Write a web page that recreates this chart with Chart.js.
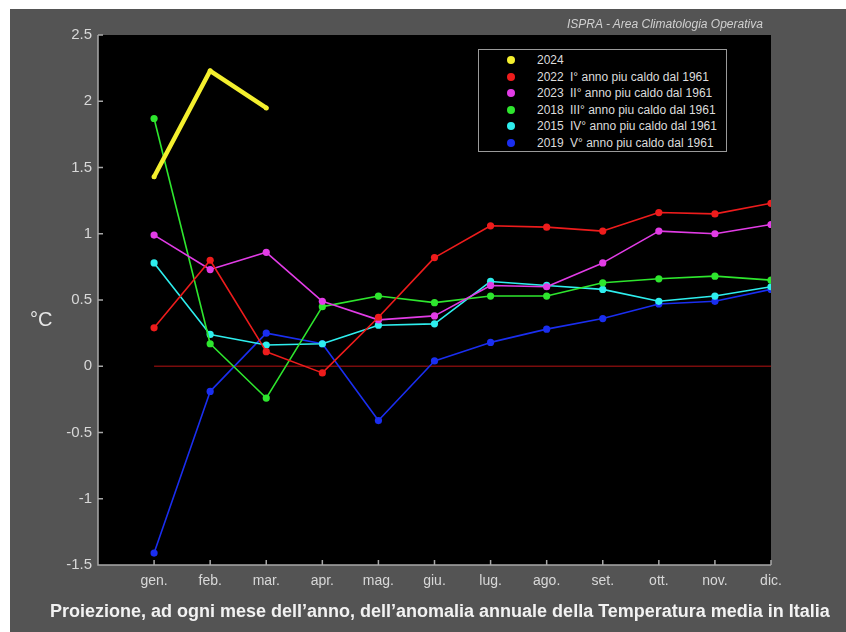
<!DOCTYPE html>
<html>
<head>
<meta charset="utf-8">
<script src="https://cdn.jsdelivr.net/npm/chart.js@4.4.1/dist/chart.umd.min.js"></script>
<style>
  html, body { margin:0; padding:0; background:#ffffff; }
  #wrap { position:relative; width:846px; height:632px; overflow:hidden; }
  #bg { position:absolute; left:10px; top:9px; right:0; bottom:0; background:#545454; }
  #c { position:absolute; left:0; top:0; }
  .txt { position:absolute; font-family:"Liberation Sans", Arial, sans-serif; white-space:nowrap; }
  #src { left:567px; top:17px; font-size:12px; font-style:italic; color:#d0d0d0; }
  #unit { left:30px; top:308px; font-size:20px; color:#e6e6e6; }
  #title { left:50px; top:601px; font-size:18px; font-weight:bold; color:#f2f2f2; }
  #legend { position:absolute; left:478px; top:49px; width:249px; height:103px; background:#000; border:1px solid #9a9a9a; box-sizing:border-box; }
  .row { position:absolute; left:0; height:14px; font-family:"Liberation Sans", Arial, sans-serif; font-size:12px; color:#dcdcdc; }
  .dot { position:absolute; left:28px; top:3px; width:8px; height:8px; border-radius:50%; }
  .yr { position:absolute; left:58px; top:0; }
  .lb { position:absolute; left:91px; top:0; white-space:nowrap; }
</style>
</head>
<body>
<div id="wrap">
  <div id="bg"></div>
  <canvas id="c" width="846" height="632"></canvas>
  <div class="txt" id="src">ISPRA - Area Climatologia Operativa</div>
  <div class="txt" id="unit">°C</div>
  <div class="txt" id="title">Proiezione, ad ogni mese dell’anno, dell’anomalia annuale della Temperatura media in Italia</div>
  <div id="legend"></div>
</div>
<script>
const months = ['gen.','feb.','mar.','apr.','mag.','giu.','lug.','ago.','set.','ott.','nov.','dic.'];
const yTicks = [-1.5, -1, -0.5, 0, 0.5, 1, 1.5, 2, 2.5];

const years = ['2024', '2022', '2023', '2018', '2015', '2019'];
const legendLabels = ['', 'I° anno piu caldo dal 1961', 'II° anno piu caldo dal 1961', 'III° anno piu caldo dal 1961', 'IV° anno piu caldo dal 1961', 'V° anno piu caldo dal 1961'];
const colors = ['#f4ef2e', '#ee1c1c', '#e23ce6', '#2ee62e', '#2eeeee', '#1a2ef0'];

const v2024 = [1.43, 2.23, 1.95];
const v2022 = [0.29, 0.80, 0.11, -0.05, 0.37, 0.82, 1.06, 1.05, 1.02, 1.16, 1.15, 1.23];
const v2023 = [0.99, 0.73, 0.86, 0.49, 0.35, 0.38, 0.61, 0.60, 0.78, 1.02, 1.00, 1.07];
const v2018 = [1.87, 0.17, -0.24, 0.45, 0.53, 0.48, 0.53, 0.53, 0.63, 0.66, 0.68, 0.65];
const v2015 = [0.78, 0.24, 0.16, 0.17, 0.31, 0.32, 0.64, 0.61, 0.58, 0.49, 0.53, 0.60];
const v2019 = [-1.41, -0.19, 0.25, 0.17, -0.41, 0.04, 0.18, 0.28, 0.36, 0.47, 0.49, 0.58];
const zeroLine = [0, 0];

const series = [v2024, v2022, v2023, v2018, v2015, v2019];
const toXY = arr => arr.map((v, i) => ({x: i, y: v}));

// HTML legend
const lg = document.getElementById('legend');
years.forEach((y, i) => {
  const r = document.createElement('div');
  r.className = 'row';
  r.style.top = (3 + i * 16.6) + 'px';
  r.style.width = '247px';
  r.innerHTML = '<span class="dot" style="background:' + colors[i] + '"></span><span class="yr">' + y + '</span><span class="lb">' + legendLabels[i] + '</span>';
  lg.appendChild(r);
});

const datasets = series.map((arr, i) => ({
  label: years[i],
  data: toXY(arr),
  borderColor: colors[i],
  backgroundColor: colors[i],
  borderWidth: i === 0 ? 4.5 : 1.6,
  borderCapStyle: 'round',
  borderJoinStyle: 'round',
  pointRadius: i === 0 ? 2.5 : 3.6,
  pointBorderWidth: 0,
  tension: 0
}));
datasets.push({
  label: 'zero',
  data: [{x: 0, y: zeroLine[0]}, {x: months.length - 1, y: zeroLine[1]}],
  borderColor: '#7a0c0c',
  borderWidth: 1.5,
  pointRadius: 0
});

const axisPlugin = {
  id: 'axisPlugin',
  beforeDraw(chart) {
    const a = chart.chartArea, ctx = chart.ctx;
    ctx.save();
    ctx.fillStyle = '#000';
    ctx.fillRect(a.left, a.top, a.right - a.left, a.bottom - a.top);
    ctx.restore();
  },
  afterDraw(chart) {
    const a = chart.chartArea, ctx = chart.ctx;
    const xs = chart.scales.x, ys = chart.scales.y;
    ctx.save();
    ctx.strokeStyle = '#a8a8a8';
    ctx.lineWidth = 1.5;
    ctx.beginPath();
    ctx.moveTo(a.left, a.top); ctx.lineTo(a.left, a.bottom); ctx.lineTo(a.right, a.bottom);
    ys.ticks.forEach(t => { const p = ys.getPixelForValue(t.value); ctx.moveTo(a.left, p); ctx.lineTo(a.left + 5, p); });
    xs.ticks.forEach(t => { const p = xs.getPixelForValue(t.value); ctx.moveTo(p, a.bottom); ctx.lineTo(p, a.bottom - 5); });
    ctx.stroke();
    ctx.restore();
  }
};

new Chart(document.getElementById('c'), {
  type: 'line',
  data: { datasets },
  plugins: [axisPlugin],
  options: {
    responsive: false,
    animation: false,
    events: [],
    layout: { padding: { left: 0, top: 35, right: 75, bottom: 0 } },
    plugins: { legend: { display: false }, tooltip: { enabled: false }, title: { display: false } },
    scales: {
      x: {
        type: 'linear', min: -1, max: 11,
        afterFit(s) { s.height = 67; },
        afterBuildTicks(s) { s.ticks = months.map((m, i) => ({value: i})); },
        grid: { display: false, drawTicks: false },
        border: { display: false },
        ticks: {
          padding: 8, color: '#d8d8d8', maxRotation: 0, autoSkip: false,
          font: { family: '"Liberation Sans", Arial, sans-serif', size: 14 },
          callback: v => months[v] || ''
        }
      },
      y: {
        type: 'linear', min: -1.5, max: 2.5,
        afterFit(s) { s.width = 98; },
        afterBuildTicks(s) { s.ticks = yTicks.map(v => ({value: v})); },
        grid: { display: false, drawTicks: false },
        border: { display: false },
        ticks: {
          padding: 6, color: '#d8d8d8',
          font: { family: '"Liberation Sans", Arial, sans-serif', size: 15 },
          callback: v => String(v)
        }
      }
    }
  }
});
</script>
</body>
</html>
